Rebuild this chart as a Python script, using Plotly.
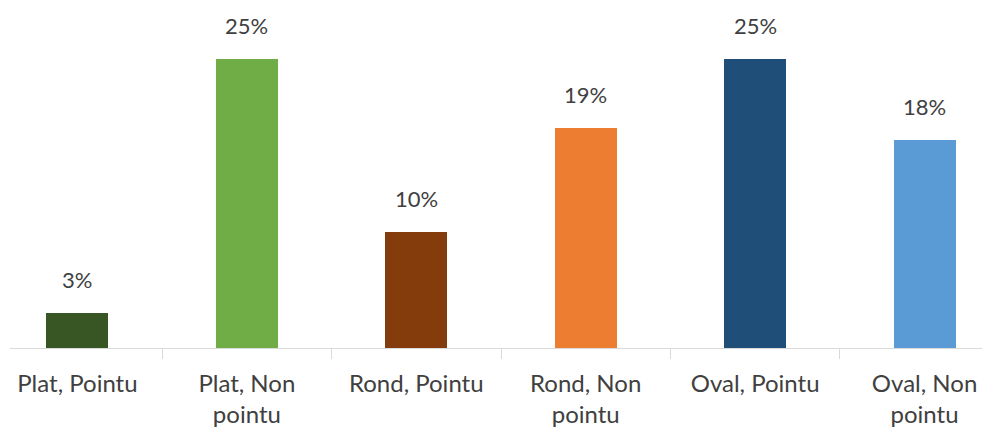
import plotly.graph_objects as go

categories = ["Plat, Pointu", "Plat, Non<br>pointu", "Rond, Pointu",
              "Rond, Non<br>pointu", "Oval, Pointu", "Oval, Non<br>pointu"]
shares = [0.03, 0.25, 0.10, 0.19, 0.25, 0.18]
colors = ["#375623", "#70AD47", "#843C0C", "#ED7D31", "#1F4E79", "#5B9BD5"]

text_color = "#404040"
font_family = "Lato"

fig = go.Figure(
    go.Bar(
        x=categories,
        y=shares,
        marker=dict(color=colors, line=dict(width=0)),
        width=0.366,
        hoverinfo="skip",
    )
)

# value labels above each bar
for cat, val in zip(categories, shares):
    fig.add_annotation(
        x=cat, y=val, text=f"{val:.0%}", showarrow=False,
        yanchor="bottom", yshift=18,
        font=dict(family=font_family, size=22, color=text_color),
    )

fig.update_layout(
    width=982, height=432,
    margin=dict(l=10, r=0, t=1, b=84),
    paper_bgcolor="white", plot_bgcolor="white",
    showlegend=False,
    bargap=0,
)
fig.update_xaxes(
    type="category",
    range=[-0.398, 5.339],
    showline=True, linecolor="#D9D9D9", linewidth=1,
    ticks="outside", tickson="boundaries", ticklen=10, tickcolor="#D9D9D9",
    ticklabelstandoff=14,
    showgrid=False,
    tickfont=dict(family=font_family, size=24, color=text_color),
)
fig.update_yaxes(range=[0, 0.30], visible=False, showgrid=False, zeroline=False)

fig.write_html("out.html")
